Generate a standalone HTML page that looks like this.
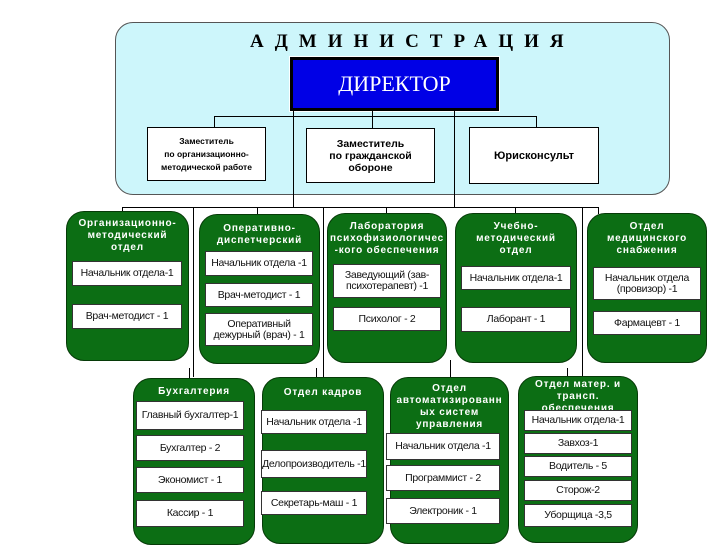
<!DOCTYPE html>
<html><head><meta charset="utf-8"><style>
body{margin:0;width:720px;height:540px;background:#fff;position:relative;overflow:hidden;font-family:"Liberation Sans","DejaVu Sans",sans-serif}
.a{position:absolute}
.ln{position:absolute;background:#000}
.g{position:absolute;background:#0c6e14;border-radius:18px;border:1px solid #063a08}
.h{position:absolute;left:0;right:0;color:#fff;font-weight:bold;font-size:10px;text-align:center;line-height:12px;letter-spacing:0.8px}
.w{position:absolute;background:#fff;border:1px solid #333;font-size:10.5px;text-align:center;display:flex;align-items:center;justify-content:center;line-height:11px;color:#111;letter-spacing:-0.3px}
.d{position:absolute;background:#fff;border:1px solid #000;font-size:9.5px;font-weight:bold;text-align:center;display:flex;align-items:center;justify-content:center;line-height:12px}
</style></head><body>
<div class="a" style="left:115px;top:22px;width:553px;height:171px;background:#cdf6fb;border:1px solid #555;border-radius:18px"></div>
<div class="a" style="left:250px;top:31px;font-family:'Liberation Serif',serif;font-weight:bold;font-size:19px;letter-spacing:11px">АДМИНИСТРАЦИЯ</div>
<div class="a" style="left:290px;top:57px;width:203px;height:48px;background:#0000e6;border:3px solid #000;outline:1px solid #fff;color:#fff;font-family:'Liberation Serif',serif;font-size:22px;display:flex;align-items:center;justify-content:center">ДИРЕКТОР</div>
<div class="ln" style="left:214px;top:116px;width:323px;height:1px"></div>
<div class="ln" style="left:214px;top:116px;width:1px;height:11px"></div>
<div class="ln" style="left:372px;top:110px;width:1px;height:18px"></div>
<div class="ln" style="left:536px;top:116px;width:1px;height:11px"></div>
<div class="ln" style="left:293px;top:110px;width:1px;height:98px"></div>
<div class="ln" style="left:454px;top:110px;width:1px;height:98px"></div>
<div class="d" style="left:147px;top:127px;width:117px;height:52px;font-size:8.5px;line-height:13px">Заместитель<br>по организационно-<br>методической работе</div>
<div class="d" style="left:306px;top:128px;width:127px;height:53px;font-size:10.5px">Заместитель<br>по гражданской<br>обороне</div>
<div class="d" style="left:469px;top:127px;width:128px;height:55px;font-size:11px">Юрисконсульт</div>
<div class="ln" style="left:122px;top:207px;width:476px;height:1px"></div>
<div class="ln" style="left:122px;top:207px;width:1px;height:5px"></div>
<div class="ln" style="left:257px;top:207px;width:1px;height:7px"></div>
<div class="ln" style="left:386px;top:207px;width:1px;height:7px"></div>
<div class="ln" style="left:515px;top:207px;width:1px;height:7px"></div>
<div class="ln" style="left:598px;top:207px;width:1px;height:7px"></div>
<div class="ln" style="left:193px;top:207px;width:1px;height:170px"></div>
<div class="ln" style="left:323px;top:207px;width:1px;height:170px"></div>
<div class="ln" style="left:582px;top:207px;width:1px;height:170px"></div>
<div class="ln" style="left:189px;top:368px;width:1px;height:10px"></div>
<div class="ln" style="left:316px;top:368px;width:1px;height:10px"></div>
<div class="ln" style="left:450px;top:360px;width:1px;height:18px"></div>
<div class="ln" style="left:567px;top:368px;width:1px;height:10px"></div>

<div class="g" style="left:66px;top:211px;width:121px;height:148px"><div class="h" style="top:6px">Организационно-<br>методический<br>отдел</div></div>
<div class="w" style="left:72px;top:261px;width:108px;height:23px">Начальник отдела-1</div>
<div class="w" style="left:72px;top:304px;width:108px;height:23px">Врач-методист - 1</div>

<div class="g" style="left:199px;top:214px;width:119px;height:148px"><div class="h" style="top:8px">Оперативно-<br>диспетчерский</div></div>
<div class="w" style="left:205px;top:251px;width:106px;height:23px">Начальник отдела -1</div>
<div class="w" style="left:205px;top:283px;width:106px;height:22px">Врач-методист - 1</div>
<div class="w" style="left:205px;top:313px;width:106px;height:31px">Оперативный<br>дежурный (врач) - 1</div>

<div class="g" style="left:327px;top:213px;width:118px;height:148px"><div class="h" style="top:7px">Лаборатория<br>психофизиологичес<br>-кого обеспечения</div></div>
<div class="w" style="left:333px;top:264px;width:106px;height:32px">Заведующий (зав-<br>психотерапевт) -1</div>
<div class="w" style="left:333px;top:307px;width:106px;height:22px">Психолог - 2</div>

<div class="g" style="left:455px;top:213px;width:120px;height:148px"><div class="h" style="top:7px">Учебно-<br>методический<br>отдел</div></div>
<div class="w" style="left:461px;top:266px;width:108px;height:22px">Начальник отдела-1</div>
<div class="w" style="left:461px;top:307px;width:108px;height:23px">Лаборант - 1</div>

<div class="g" style="left:587px;top:213px;width:118px;height:148px"><div class="h" style="top:7px">Отдел<br>медицинского<br>снабжения</div></div>
<div class="w" style="left:593px;top:267px;width:106px;height:31px">Начальник отдела<br>(провизор) -1</div>
<div class="w" style="left:593px;top:311px;width:106px;height:22px">Фармацевт - 1</div>

<div class="g" style="left:133px;top:378px;width:120px;height:165px"><div class="h" style="top:7px">Бухгалтерия</div></div>
<div class="w" style="left:136px;top:401px;width:106px;height:27px">Главный бухгалтер-1</div>
<div class="w" style="left:136px;top:435px;width:106px;height:24px">Бухгалтер - 2</div>
<div class="w" style="left:136px;top:467px;width:106px;height:24px">Экономист - 1</div>
<div class="w" style="left:136px;top:500px;width:106px;height:25px">Кассир - 1</div>

<div class="g" style="left:262px;top:377px;width:120px;height:165px"><div class="h" style="top:9px">Отдел кадров</div></div>
<div class="w" style="left:261px;top:410px;width:104px;height:22px">Начальник отдела -1</div>
<div class="w" style="left:261px;top:450px;width:104px;height:26px">Делопроизводитель -1</div>
<div class="w" style="left:261px;top:491px;width:104px;height:22px">Секретарь-маш - 1</div>

<div class="g" style="left:390px;top:377px;width:117px;height:165px"><div class="h" style="top:5px">Отдел<br>автоматизированн<br>ых систем<br>управления</div></div>
<div class="w" style="left:386px;top:433px;width:112px;height:25px">Начальник отдела -1</div>
<div class="w" style="left:386px;top:465px;width:112px;height:24px">Программист - 2</div>
<div class="w" style="left:386px;top:498px;width:112px;height:24px">Электроник - 1</div>

<div class="g" style="left:518px;top:376px;width:118px;height:165px"><div class="h" style="top:2px">Отдел матер. и<br>трансп. обеспечения</div></div>
<div class="w" style="left:524px;top:410px;width:106px;height:19px">Начальник отдела-1</div>
<div class="w" style="left:524px;top:433px;width:106px;height:19px">Завхоз-1</div>
<div class="w" style="left:524px;top:456px;width:106px;height:19px">Водитель - 5</div>
<div class="w" style="left:524px;top:480px;width:106px;height:19px">Сторож-2</div>
<div class="w" style="left:524px;top:504px;width:106px;height:21px">Уборщица -3,5</div>
</body></html>
